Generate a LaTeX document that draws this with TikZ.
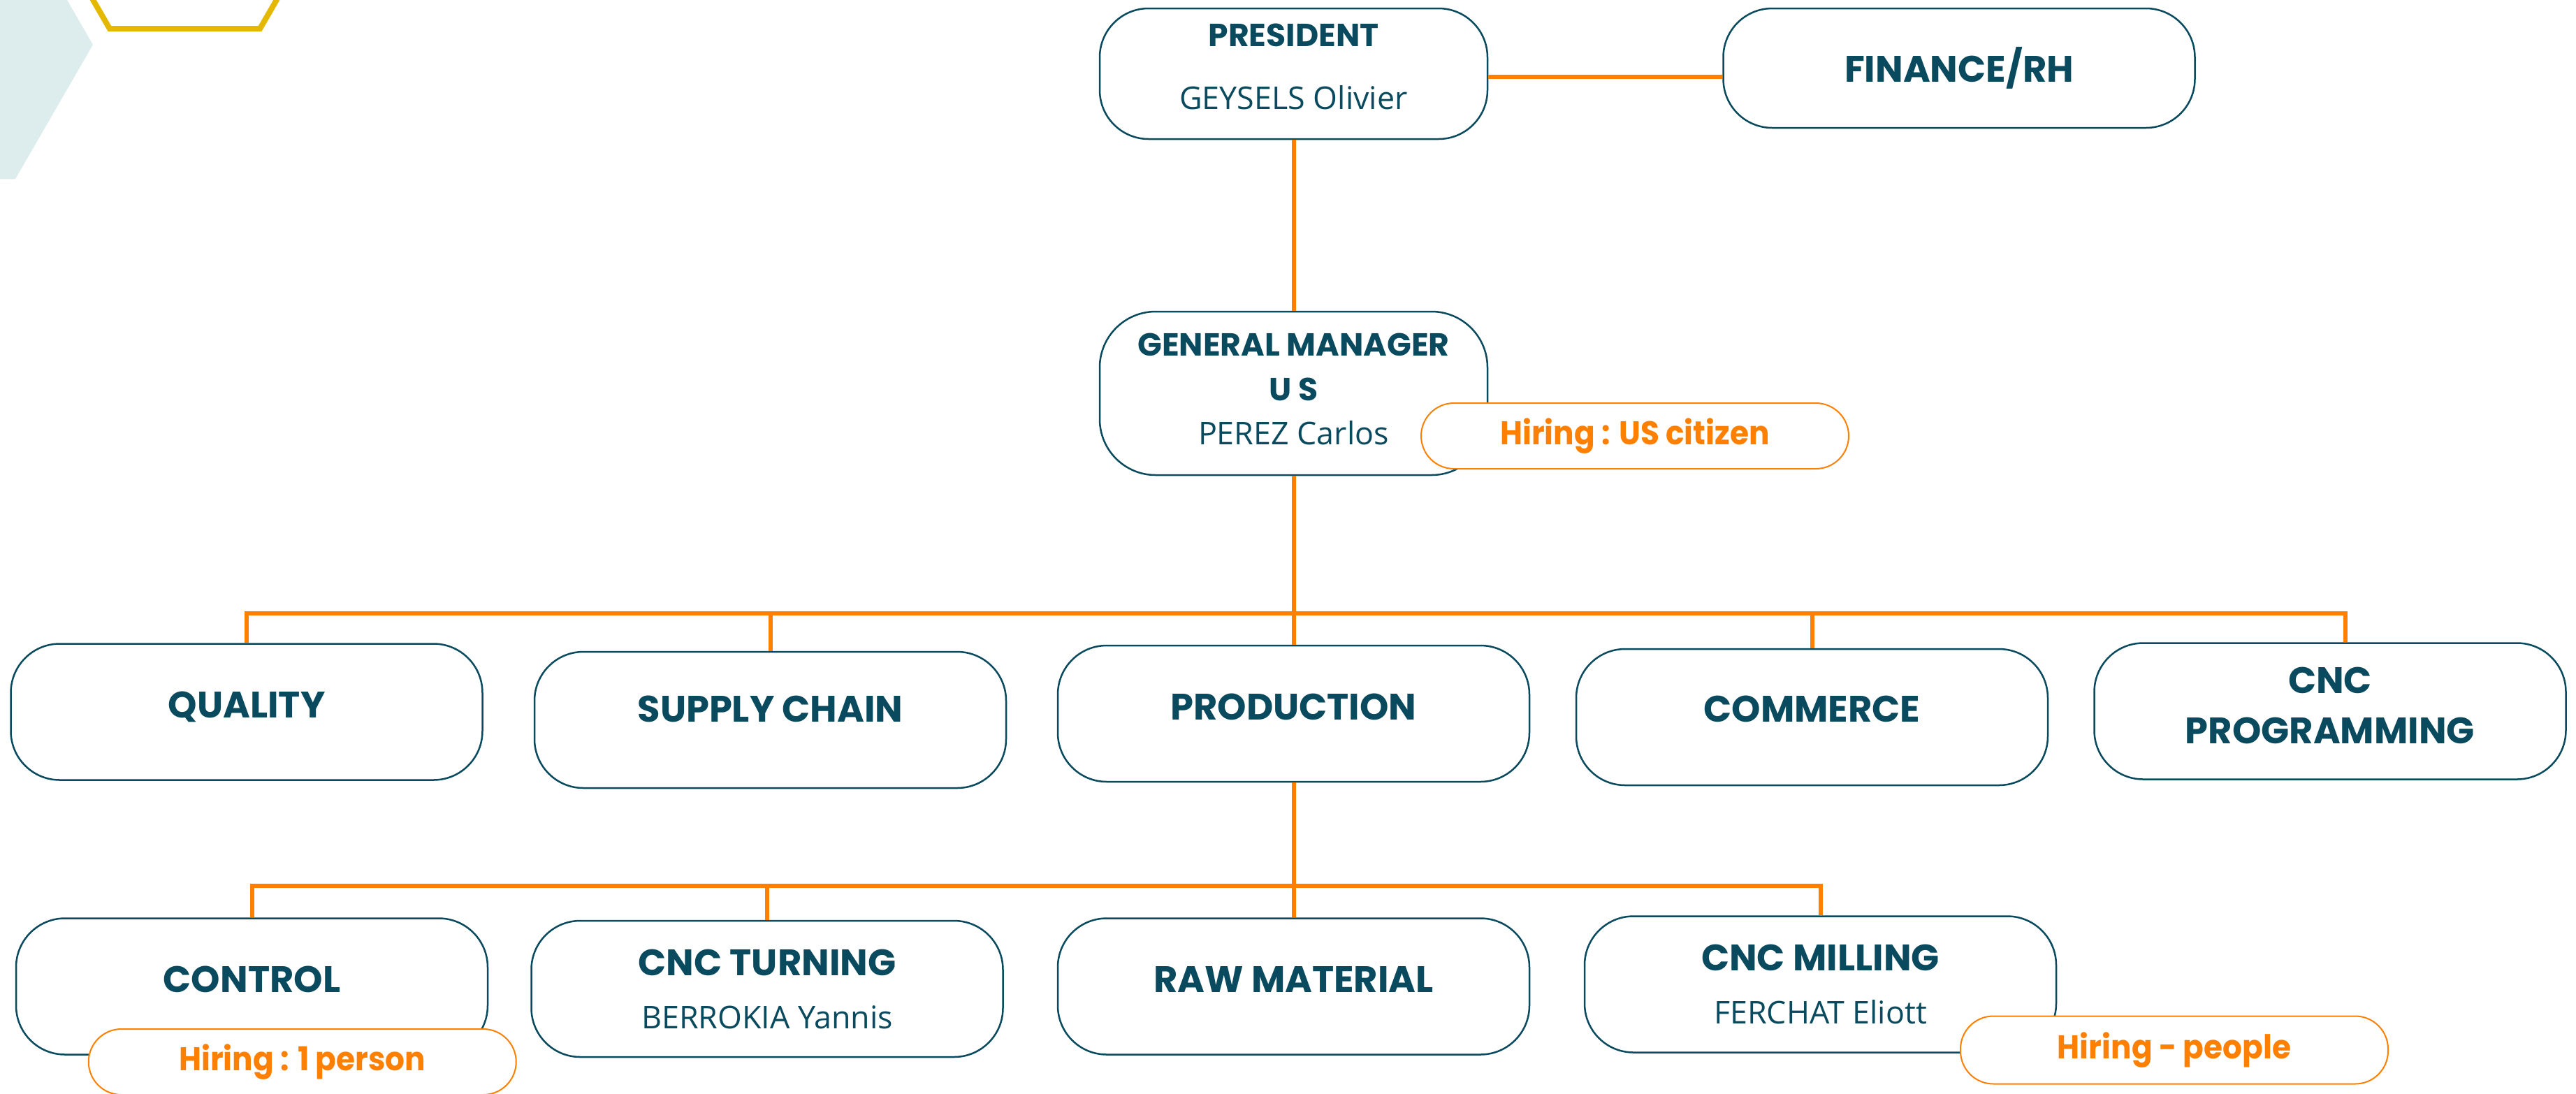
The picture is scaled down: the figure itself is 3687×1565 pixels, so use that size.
\documentclass[tikz,border=0pt]{standalone}
\usepackage{fontspec}
\usepackage{tikz}
\usetikzlibrary{positioning}

\newfontfamily\headfont{Poppins}
\newfontfamily\tagfont{Poppins}[FakeStretch=0.93]
\newfontfamily\namefont{Open Sans}

\definecolor{unitteal}{RGB}{10,74,94}
\definecolor{linkorange}{RGB}{255,128,0}
\definecolor{hireorange}{RGB}{255,128,0}
\definecolor{hexteal}{RGB}{221,237,237}
\definecolor{hexgold}{RGB}{229,184,0}

\newcommand\who[1]{{\namefont\mdseries\fontsize{12.75}{18}\selectfont #1}}

\begin{document}
\begin{tikzpicture}[x=0.1mm, y=-0.1mm,
    unit/.style={draw=unitteal, line width=0.25mm, fill=white, rounded corners=7mm,
      minimum width=67.5mm, minimum height=19.5mm, inner sep=0pt, align=center,
      text depth=2mm, text=unitteal,
      font=\headfont\bfseries\fontsize{15}{20.5}\selectfont},
    head/.style={unit, minimum width=55.5mm,
      font=\headfont\bfseries\fontsize{13}{18}\selectfont},
    hiring/.style={draw=hireorange, line width=0.2mm, fill=white, rounded corners=4.7mm,
      minimum width=61.2mm, minimum height=9.4mm, inner sep=0pt, text=hireorange,
      font=\tagfont\bfseries\fontsize{13.4}{16}\selectfont},
    link/.style={draw=linkorange, line width=0.6mm}]

    \clip (0,0) rectangle (3687,1565);

    % DRAW CORNER HEXAGONS
    \fill[hexteal] (-89,64) +(0:222) -- +(60:222) -- +(120:222) -- +(180:222)
        -- +(240:222) -- +(300:222) -- cycle;
    \draw[hexgold, line width=0.8mm] (264.5,-145) +(0:215) -- +(60:215) -- +(120:215)
        -- +(180:215) -- +(240:215) -- +(300:215) -- cycle;

    % DRAW TOP
    \node[head, minimum height=18.7mm] (pres) at (1851.5,105.5)
        {PRESIDENT\\[7.6pt]\who{GEYSELS Olivier}};
    \node[unit, minimum height=17.1mm, text depth=1mm] (fin) at (2804,97.5) {FINANCE/RH};
    \node[head, minimum height=23.4mm, rounded corners=8mm, text depth=1.2mm] (gm)
        at (1851.5,563) {GENERAL MANAGER\\U S\\\who{PEREZ Carlos}};

    % DRAW DEPARTMENTS
    \node[unit] (quality)  at (353,1019)    {QUALITY};
    \node[unit, text depth=3.2mm] (supply) at (1102.5,1030.5) {SUPPLY CHAIN};
    \node[unit] (prod)     at (1851.5,1021.5) {PRODUCTION};
    \node[unit, text depth=2.4mm] (commerce) at (2593.5,1026.5) {COMMERCE};
    \node[unit, text depth=1.6mm] (cncprog) at (3335,1018) {CNC\\PROGRAMMING};

    % DRAW WORKSHOPS
    \node[unit] (control) at (360.5,1412)  {CONTROL};
    \node[unit, text depth=0pt] (turning) at (1098,1415.5)
        {CNC TURNING\\[1pt]\who{BERROKIA Yannis}};
    \node[unit] (raw)     at (1851.5,1412) {RAW MATERIAL};
    \node[unit, text depth=0pt] (milling) at (2605.5,1409)
        {CNC MILLING\\[1pt]\who{FERCHAT Eliott}};

    % DRAW LINKS
    \coordinate (bus1) at (1851.5,878);
    \coordinate (bus2) at (1851.5,1268);
    \draw[link] ([yshift=-0.45mm]pres.east) -- ([yshift=-0.45mm]pres.east -| fin.west);
    \draw[link] (pres.south) -- (gm.north);
    \draw[link] (gm.south) -- (prod.north);
    \draw[link] (quality.north) |- (bus1) -| ([xshift=2.2mm]cncprog.north);
    \foreach \d in {supply,commerce}
        \draw[link] (\d.north) -- (\d.north |- bus1);
    \draw[link] (prod.south) -- (raw.north);
    \draw[link] (control.north) |- (bus2) -| (milling.north);
    \draw[link] (turning.north) -- (turning.north |- bus2);

    % DRAW HIRING TAGS
    \node[hiring] (hiregm)   at (2340,624)    {Hiring : US citizen};
    \node[hiring] (hirectrl) at (432.75,1520) {Hiring : 1 person};
    \node[hiring, minimum height=9.7mm] (hiremill) at (3112,1503) {Hiring - people};

\end{tikzpicture}
\end{document}
